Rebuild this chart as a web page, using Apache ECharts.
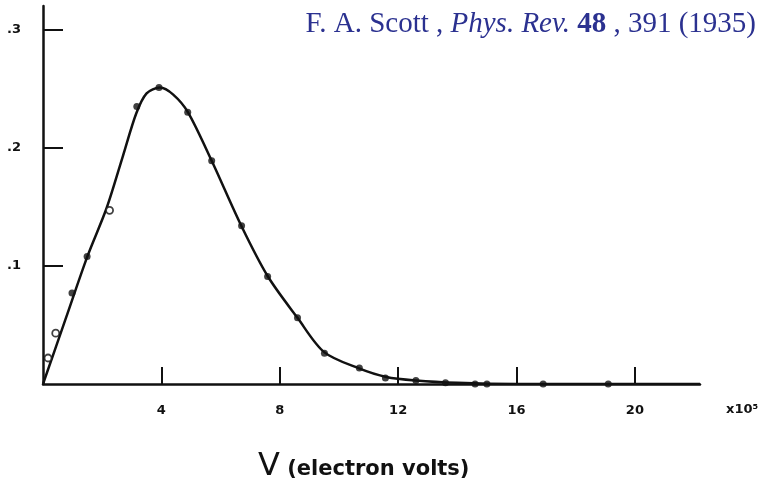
<!DOCTYPE html>
<html>
<head>
<meta charset="utf-8">
<script src="https://cdn.jsdelivr.net/npm/echarts@6/dist/echarts.min.js"></script>
<style>
  html, body { margin: 0; padding: 0; background: #fff; }
  #chart { width: 769px; height: 484px; }
</style>
</head>
<body>
<div id="chart"></div>
<script>
// hand-drawn curve
var curveX = [0, 0.75, 1.5, 2.15, 2.7, 3.15, 3.5, 3.95, 4.4, 4.9, 5.7, 6.7, 7.6, 8.6, 9.5, 10.7, 11.6, 12.6, 14.0, 16.0, 22.2];
var curveY = [0, 0.054, 0.108, 0.149, 0.193, 0.229, 0.246, 0.251, 0.245, 0.230, 0.189, 0.134, 0.091, 0.056, 0.027, 0.013, 0.006, 0.003, 0.001, 0, 0];

// filled points
var dotX = [0.98, 1.49, 3.17, 3.92, 4.89, 5.7, 6.71, 7.59, 8.6, 9.51, 10.69, 11.57, 12.6, 13.6, 14.6, 15.0, 16.9, 19.1];
var dotY = [0.077, 0.108, 0.235, 0.251, 0.230, 0.189, 0.134, 0.091, 0.056, 0.026, 0.0136, 0.005, 0.003, 0.001, 0, 0, 0, 0];

// open points
var ringX = [0.17, 0.43, 2.25];
var ringY = [0.022, 0.043, 0.147];

var xTicks = [4, 8, 12, 16, 20];
var yTicks = [0.1, 0.2, 0.3];

var pairs = function (xs, ys) {
  var out = [];
  for (var i = 0; i < xs.length; i++) out.push([xs[i], ys[i]]);
  return out;
};

var chart = echarts.init(document.getElementById('chart'));

var option = {
  backgroundColor: '#fff',
  animation: false,
  title: [
    {
      // citation, top right
      text: '{n|F. A. Scott , }{i|Phys. Rev.}{b| 48}{n| , 391 (1935)}',
      right: 8,
      top: 5,
      textStyle: {
        rich: {
          n: { fontFamily: 'Liberation Serif', fontSize: 29, fontWeight: 'normal', color: '#2b3190' },
          i: { fontFamily: 'Liberation Serif', fontSize: 29, fontWeight: 'normal', color: '#2b3190', fontStyle: 'italic' },
          b: { fontFamily: 'Liberation Serif', fontSize: 29, color: '#2b3190', fontWeight: 'bold' }
        }
      }
    },
    {
      // axis title
      text: '{v|V}{s| (electron volts)}',
      left: 253,
      top: 446,
      textStyle: {
        rich: {
          v: { fontFamily: 'DejaVu Sans', fontSize: 32, fontWeight: 'normal', color: '#111' },
          s: { fontFamily: 'DejaVu Sans', fontSize: 21, fontWeight: 'bold', color: '#111', padding: [5, 0, 0, 0] }
        }
      }
    }
  ],
  grid: { left: 43, right: 69, top: 6, bottom: 100, containLabel: false },
  xAxis: {
    type: 'value',
    min: 0,
    max: 22.2,
    interval: 4,
    name: 'x10⁵',
    nameLocation: 'end',
    nameGap: 26,
    nameTextStyle: { fontFamily: 'DejaVu Sans', fontSize: 13, fontWeight: 'bold', color: '#111', verticalAlign: 'top', padding: [19, 0, 0, 0] },
    axisLine: { lineStyle: { color: '#111', width: 2.5 } },
    axisTick: { inside: true, length: 17, customValues: xTicks, lineStyle: { color: '#111', width: 2 } },
    axisLabel: { customValues: xTicks, margin: 20, fontFamily: 'DejaVu Sans', fontSize: 13, fontWeight: 'bold', color: '#111' },
    splitLine: { show: false }
  },
  yAxis: {
    type: 'value',
    min: 0,
    max: 0.32,
    interval: 0.1,
    axisLine: { show: true, lineStyle: { color: '#111', width: 2.5 } },
    axisTick: { show: true, inside: true, length: 20, customValues: yTicks, lineStyle: { color: '#111', width: 2 } },
    axisLabel: {
      customValues: yTicks,
      margin: 22,
      fontFamily: 'DejaVu Sans',
      fontSize: 13,
      fontWeight: 'bold',
      color: '#111',
      formatter: function (v) { return '.' + Math.round(v * 10); }
    },
    splitLine: { show: false }
  },
  series: [
    {
      type: 'line',
      data: pairs(curveX, curveY),
      smooth: 0.3,
      showSymbol: false,
      lineStyle: { color: '#111', width: 2.5 },
      z: 2
    },
    {
      type: 'scatter',
      data: pairs(dotX, dotY),
      symbol: 'circle',
      symbolSize: 7,
      itemStyle: { color: '#111' },
      z: 3
    },
    {
      type: 'scatter',
      data: pairs(ringX, ringY),
      symbol: 'circle',
      symbolSize: 7,
      itemStyle: { color: '#fff', borderColor: '#111', borderWidth: 1.8 },
      z: 3
    }
  ]
};

chart.setOption(option);
</script>
</body>
</html>
